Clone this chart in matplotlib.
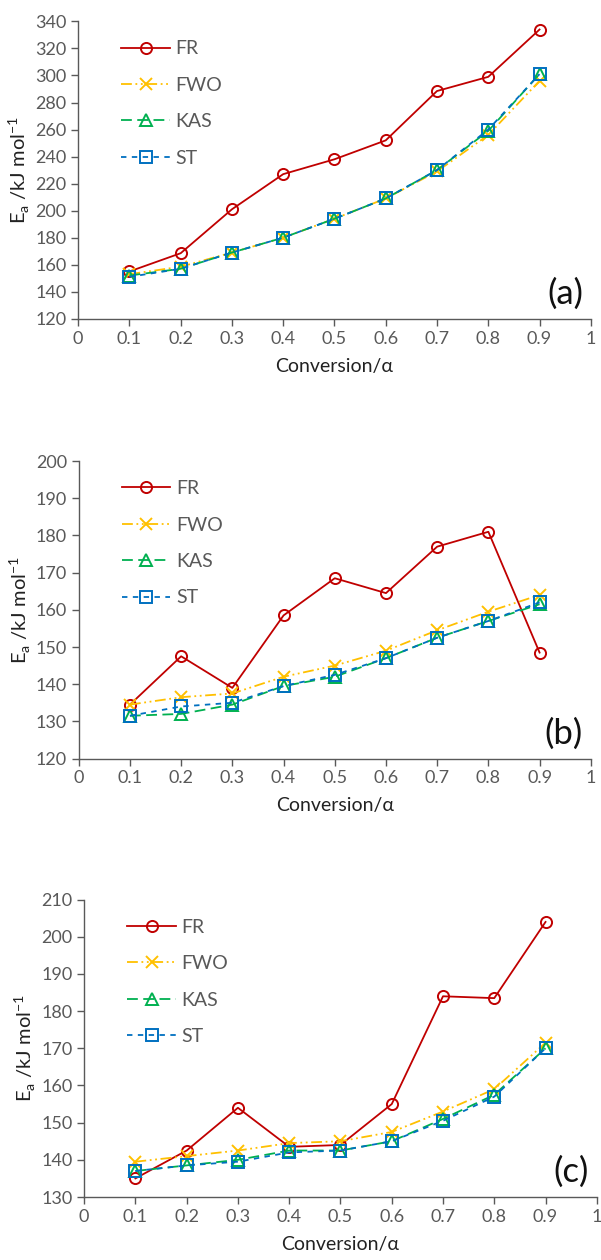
import matplotlib
matplotlib.use("Agg")
import matplotlib.pyplot as plt

plt.rcParams['font.family'] = ['Lato', 'DejaVu Sans']
plt.rcParams['mathtext.fontset'] = 'custom'
plt.rcParams['mathtext.rm'] = 'Lato'

conversion = [0.1, 0.2, 0.3, 0.4, 0.5, 0.6, 0.7, 0.8, 0.9]
methods = ['FR', 'FWO', 'KAS', 'ST']

# panel (a)
a_fr = [155, 168.5, 201, 227, 238, 252, 288.5, 299, 334]
a_fwo = [153, 158.5, 169, 180, 194, 209, 229, 256, 296]
a_kas = [152, 157, 169, 180, 194, 209, 230, 259, 301]
a_st = [151, 157, 169, 180, 194, 209, 230, 260, 301]

# panel (b)
b_fr = [134.5, 147.5, 139, 158.5, 168.5, 164.5, 177, 181, 148.5]
b_fwo = [134.5, 136.5, 137.5, 142, 145, 149, 154.5, 159.5, 164]
b_kas = [131.5, 132, 134.5, 139.5, 142, 147, 152.5, 157, 161.5]
b_st = [131.5, 134, 135, 139.5, 142.5, 147, 152.5, 157, 162]

# panel (c)
c_fr = [135, 142.5, 154, 143.5, 144, 155, 184, 183.5, 204]
c_fwo = [139.5, 141, 142.5, 144.5, 145, 147.5, 153, 159, 171.5]
c_kas = [137, 138.5, 140, 142.5, 142.5, 145, 151, 157.5, 170]
c_st = [137, 138.5, 139.5, 142, 142.5, 145, 150.5, 157, 170]

panels = [
    ('(a)', [a_fr, a_fwo, a_kas, a_st], (120, 340), 20, [0.130, 0.747, 0.853, 0.236]),
    ('(b)', [b_fr, b_fwo, b_kas, b_st], (120, 200), 10, [0.131, 0.398, 0.852, 0.236]),
    ('(c)', [c_fr, c_fwo, c_kas, c_st], (130, 210), 10, [0.140, 0.050, 0.853, 0.236]),
]

colors = ['#C00000', '#FFC000', '#00B050', '#0070C0']
markers = ['o', 'x', '^', 's']
styles = ['-', (0, (6, 2, 1, 2, 1, 2)), (0, (6, 3)), (0, (3, 3))]
text_col = '#595959'

fig = plt.figure(figsize=(6.01, 12.6), dpi=100)

for tag, series, ylim, ystep, rect in panels:
    ax = fig.add_axes(rect)
    for vals, name, col, mk, ls in zip(series, methods, colors, markers, styles):
        ax.plot(conversion, vals, color=col, linestyle=ls, linewidth=1.3,
                marker=mk, markersize=8 if mk != 'x' else 8.5,
                markerfacecolor='none', markeredgecolor=col, markeredgewidth=1.4,
                label=name)
    ax.set_xlim(0, 1)
    ax.set_ylim(*ylim)
    ax.set_xticks([i / 10 for i in range(11)])
    ax.set_xticklabels(['0', '0.1', '0.2', '0.3', '0.4', '0.5', '0.6', '0.7', '0.8', '0.9', '1'])
    ax.set_yticks(range(ylim[0], ylim[1] + 1, ystep))
    for s in ['top', 'right']:
        ax.spines[s].set_visible(False)
    for s in ['left', 'bottom']:
        ax.spines[s].set_color('#595959')
        ax.spines[s].set_linewidth(1.0)
    ax.tick_params(direction='out', length=5, width=1, color='#595959',
                   labelcolor=text_col, labelsize=13)
    ax.set_xlabel('Conversion/α', fontsize=14, color='#222222', labelpad=8)
    ax.set_ylabel('E$_\\mathrm{a}$ /kJ mol$^{\\mathrm{-1}}$', fontsize=14.5, color='#222222', labelpad=2)
    ax.text(0.985, 0.03, tag, transform=ax.transAxes, ha='right', va='bottom',
            fontsize=25, color='#111111')
    leg = ax.legend(loc='upper left', bbox_to_anchor=(0.05, 0.995), frameon=False,
                    fontsize=14, handlelength=2.5, labelspacing=1.0, handletextpad=0.3)
    for t in leg.get_texts():
        t.set_color(text_col)

fig.savefig('out.png', dpi=100)
